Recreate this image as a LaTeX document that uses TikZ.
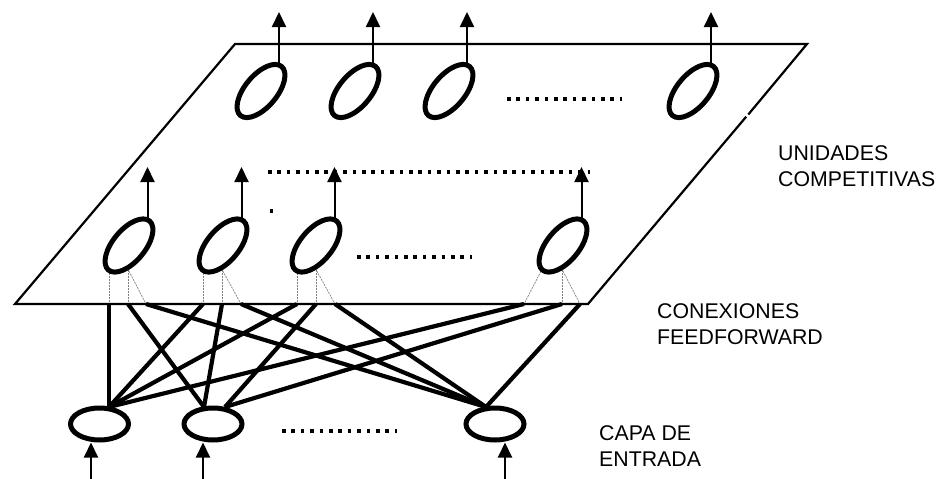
\documentclass[tikz,border=0pt]{standalone}
\usepackage{fontspec}
\setmainfont{Liberation Sans}
\usetikzlibrary{shapes.geometric,arrows.meta,calc,backgrounds}
\begin{document}
\begin{tikzpicture}[x=1pt,y=-1pt,
 plane/.style={line width=2.2pt, line join=miter},
 unit/.style={ellipse, draw, fill=white, line width=5pt, minimum width=64pt, minimum height=32pt, inner sep=0pt, rotate=50},
 inp/.style={ellipse, draw, fill=white, line width=5pt, minimum width=58pt, minimum height=32pt, inner sep=0pt},
 arr/.style={line width=2pt, -{Triangle[width=14pt,length=15pt]}},
 ff/.style={line width=4.2pt},
 thinc/.style={line width=0.7pt, gray, dash pattern=on 2pt off 1pt},
 dots/.style={line width=3.5pt, dash pattern=on 3.5pt off 5.9pt},
 lbl/.style={anchor=north west, inner sep=0pt, align=left, font=\fontsize{21.3}{26}\selectfont}
]
\useasboundingbox (0,0) rectangle (943,479);
% plane
\coordinate (pa) at (15,304);
\coordinate (pb) at (235,44);
\coordinate (pc) at (807,44);
\coordinate (pd) at (588,304);
\coordinate (g1) at (748.3,114.5);
\coordinate (g2) at (746.2,116.7);
\draw[plane] (g1) -- (pc) -- (pb) -- (pa) -- (pd) -- (g2);
% upper competitive units
\node[unit] (u1) at (261,91) {};
\node[unit] (u2) at (355,91) {};
\node[unit] (u3) at (449,91) {};
\node[unit] (u4) at (693,91) {};
% lower competitive units
\node[unit] (e1) at (129,245.5) {};
\node[unit] (e2) at (223,245.5) {};
\node[unit] (e3) at (316,245.5) {};
\node[unit] (e4) at (563,245.5) {};
% input units
\node[inp] (i1) at (99.5,424) {};
\node[inp] (i2) at (213,424) {};
\node[inp] (i3) at (495,424) {};
% output arrows
\foreach \n in {u1,u2,u3,u4}{
  \draw[arr] ($(\n)+(18,-25)$) -- ($(\n)+(18,-79)$);
}
\foreach \n in {e1,e2,e3,e4}{
  \draw[arr] ($(\n)+(18.5,-25)$) -- ($(\n)+(18.5,-78.5)$);
}
% input arrows
\draw[arr] ($(i1)+(-8.5,55)$) -- ($(i1)+(-8.5,18.5)$);
\draw[arr] ($(i2)+(-10,55)$) -- ($(i2)+(-10,18.5)$);
\draw[arr] ($(i3)+(10,55)$) -- ($(i3)+(10,18.5)$);
% ports on the plane edge
\foreach \p/\x in {p11/109,p12/128,p13/146,p21/203,p22/222,p23/241,p31/297,p32/316,p33/335,p41/524,p42/562,p43/580}{
  \coordinate (\p) at (\x,304);
}
\coordinate (q1) at ($(i1)+(9.5,-17)$);
\coordinate (q2a) at ($(i2)+(-9,-17)$);
\coordinate (q2b) at ($(i2)+(12,-17)$);
\coordinate (q3) at ($(i3)+(-9,-17)$);
\begin{scope}[on background layer]
  % thin links from the units to the plane
  \draw[thinc] ($(e1)+(-20,15)$) -- (p11);
  \draw[thinc] ($(e1)+(-1,15)$) -- (p12);
  \draw[thinc] ($(e1)+(-5.5,15)$) -- (p13);
  \draw[thinc] ($(e2)+(-20,15)$) -- (p21);
  \draw[thinc] ($(e2)+(-1,15)$) -- (p22);
  \draw[thinc] ($(e2)+(-6,15)$) -- (p23);
  \draw[thinc] ($(e3)+(-19,15)$) -- (p31);
  \draw[thinc] ($(e3)+(0,15)$) -- (p32);
  \draw[thinc] ($(e3)+(-5,15)$) -- (p33);
  \draw[thinc] ($(e4)+(-16.5,15)$) -- (p41);
  \draw[thinc] ($(e4)+(-1,15)$) -- (p42);
  \draw[thinc] ($(e4)+(-5.5,15)$) -- (p43);
  % feedforward connections
  \draw[ff] (p11) -- (q1);
  \draw[ff] (p21) -- (q1);
  \draw[ff] (p31) -- (q1);
  \draw[ff] (p41) -- (q1);
  \draw[ff] (p12) -- (q2a);
  \draw[ff] (p22) -- (q2a);
  \draw[ff] (p32) -- (q2b);
  \draw[ff] (p42) -- (q2b);
  \draw[ff] (p13) -- (q3);
  \draw[ff] (p23) -- (q3);
  \draw[ff] (p33) -- (q3);
  \draw[ff] (p43) -- (q3);
\end{scope}
% ellipsis dots
\draw[dots] (507,99) -- (622,99);
\draw[dots] (268,172) -- (590,172);
\draw[dots] (269.5,211) -- (273,211);
\draw[dots] (357,257) -- (472,257);
\draw[dots] (282,431) -- (397,431);
% labels
\node[lbl] (t1) at (778,145) {UNIDADES\\COMPETITIVAS};
\node[lbl] (t2) at (657,303) {CONEXIONES\\FEEDFORWARD};
\node[lbl] (t3) at (599,425) {CAPA DE\\ENTRADA};
\end{tikzpicture}
\end{document}
